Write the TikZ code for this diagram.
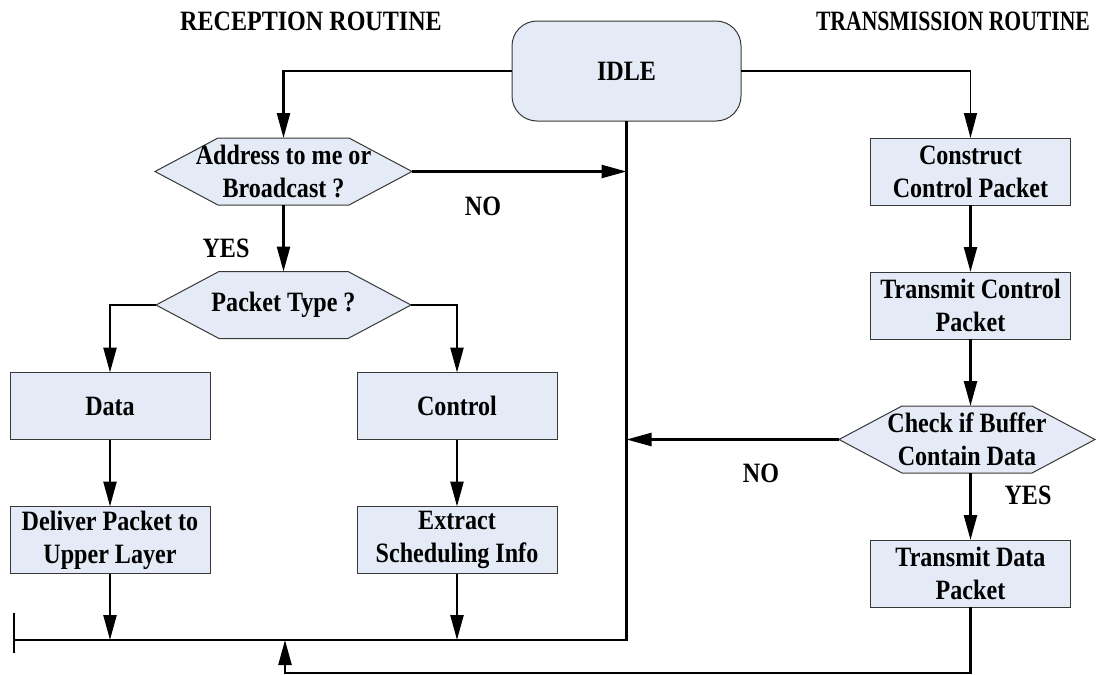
\documentclass[tikz,border=0pt]{standalone}
\usepackage{fontspec}
\setmainfont{Liberation Serif}[FakeStretch=0.86]
\usetikzlibrary{arrows.meta}
\definecolor{boxfill}{RGB}{228,235,246}
\definecolor{boxline}{RGB}{55,55,55}
\pgfdeclarelayer{bg}
\pgfsetlayers{bg,main}

\begin{document}
\begin{tikzpicture}[x=1pt,y=-1pt,
  every node/.style={font=\fontsize{28}{33}\selectfont\bfseries,
    inner sep=0pt, outer sep=0pt, align=center},
  procbox/.style={draw=boxline, fill=boxfill, line width=1pt,
    minimum width=200pt, minimum height=67pt},
  hexnode/.style={minimum width=#1, minimum height=67pt},
  hexshape/.style={draw=boxline, fill=boxfill, line width=1pt},
  flow/.style={line width=2.4pt, -{Triangle[length=25pt,width=13pt]}},
  wire/.style={line width=2.4pt},
]
\useasboundingbox (0,0) rectangle (1096,675);

% headings
\node (rxtitle) at (311,21) {RECEPTION ROUTINE};
\node[anchor=east] (txtitle) at (1090,21) {\scalebox{0.9}[1]{TRANSMISSION ROUTINE}};

% start state
\node[procbox, rounded corners=25pt, minimum width=229pt, minimum height=100pt]
  (idle) at (626.5,71) {IDLE};

% reception side
\node[hexnode=257pt] (addr)  at (283.5,171.5) {Address to me or\\Broadcast ?};
\node[hexnode=255pt] (ptype) at (283.5,305) {Packet Type ?};
\node[procbox] (data)    at (110,406) {Data};
\node[procbox] (ctrl)    at (457,406) {Control};
\node[procbox] (deliver) at (110,540) {Deliver Packet to\\Upper Layer};
\node[procbox] (extract) at (457,540) {Extract\\Scheduling Info};

% transmission side
\node[procbox] (construct) at (970.5,171.5) {Construct\\Control Packet};
\node[procbox] (txctrl)    at (970.5,305.5) {Transmit Control\\Packet};
\node[hexnode=256pt] (check) at (967,439.5) {Check if Buffer\\Contain Data};
\node[procbox] (txdata)    at (970.5,573.5) {Transmit Data\\Packet};

% branch labels
\node (no1)  at (483,206) {NO};
\node (yes1) at (226,248) {YES};
\node (no2)  at (761,473) {NO};
\node (yes2) at (1028,495) {YES};

% decision outlines behind their texts
\begin{pgfonlayer}{bg}
\foreach \h in {addr,ptype,check}
  \filldraw[hexshape] (\h.west) -- ([xshift=63pt]\h.north west)
    -- ([xshift=-63pt]\h.north east) -- (\h.east)
    -- ([xshift=-63pt]\h.south east) -- ([xshift=63pt]\h.south west) -- cycle;
\end{pgfonlayer}

% bus and return path
\coordinate (busL)  at (14,640);
\coordinate (busR)  at (idle.south |- busL);
\coordinate (tickT) at (14,613);
\coordinate (tickB) at (14,653);
\coordinate (retJ)  at (285,640);
\coordinate (retB)  at (285,673);

% connectors
\draw[flow] (idle.west) -| (addr.north);
\draw[flow, line width=1.5pt] (idle.east) -| (construct.north);
\draw[flow] (addr.south) -- (ptype.north);
\draw[flow] (addr.east) -- (addr.east -| idle.south);
\draw[flow] (ptype.west) -| (data.north);
\draw[flow] (ptype.east) -| (ctrl.north);
\draw[flow] (data) -- (deliver);
\draw[flow] (ctrl) -- (extract);
\draw[flow] (construct) -- (txctrl);
\draw[flow] (txctrl.south) -- (txctrl.south |- check.north);
\draw[flow] (check.west) -- (check.west -| idle.south);
\draw[flow] (txdata.north |- check.south) -- (txdata.north);
\draw[wire] (idle.south) -- (busR) -- (busL);
\draw[wire] (tickT) -- (tickB);
\draw[flow] (deliver.south) -- (deliver.south |- busL);
\draw[flow] (extract.south) -- (extract.south |- busL);
\draw[flow] (txdata.south) -- (txdata.south |- retB) -- (retB) -- (retJ);
\end{tikzpicture}
\end{document}
